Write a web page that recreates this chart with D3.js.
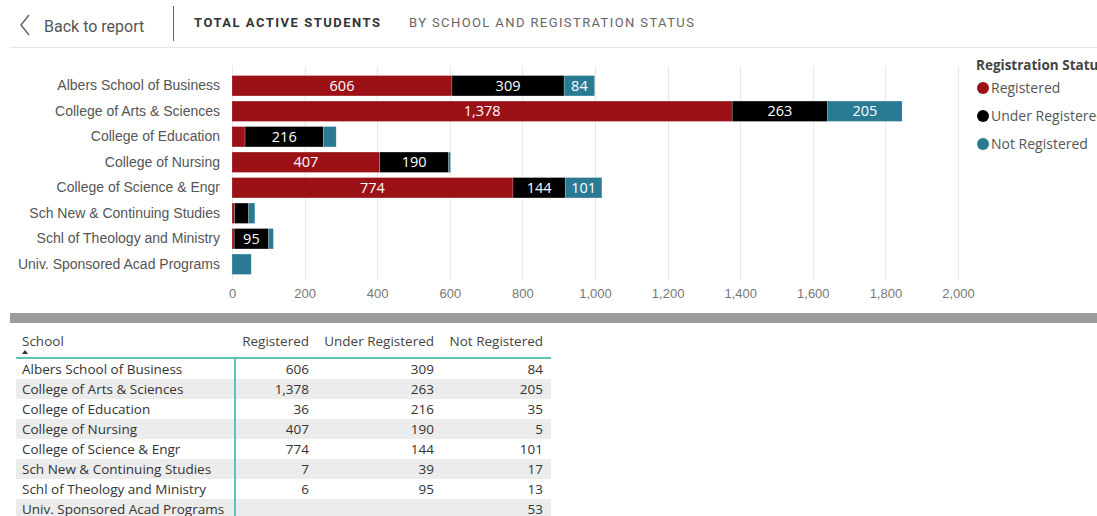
<!DOCTYPE html>
<html>
<head>
<meta charset="utf-8">
<script src="https://cdn.jsdelivr.net/npm/d3@7"></script>
<style>
  body { margin: 0; background: #fff; }
  svg { display: block; font-family: "Open Sans", sans-serif; }
</style>
</head>
<body>
<svg id="chart" width="1097" height="516"></svg>
<script>
// data
const schools = ["Albers School of Business", "College of Arts & Sciences", "College of Education",
  "College of Nursing", "College of Science & Engr", "Sch New & Continuing Studies",
  "Schl of Theology and Ministry", "Univ. Sponsored Acad Programs"]
const registered = [606, 1378, 36, 407, 774, 7, 6, null]
const underRegistered = [309, 263, 216, 190, 144, 39, 95, null]
const notRegistered = [84, 205, 35, 5, 101, 17, 13, 53]
const statuses = ["Registered", "Under Registered", "Not Registered"]
const xTicks = [0, 200, 400, 600, 800, 1000, 1200, 1400, 1600, 1800, 2000]

const colors = ["#9b1115", "#000000", "#2a7a93"]
const fmt = d3.format(",")

const rows = schools.map((s, i) => ({
  school: s, Registered: registered[i], "Under Registered": underRegistered[i], "Not Registered": notRegistered[i]
}))

const svg = d3.select("#chart")

// header
svg.append("path").attr("d", "M29,15 L21,25 L29,35").attr("fill", "none").attr("stroke", "#666").attr("stroke-width", 1.5)
svg.append("text").attr("x", 44).attr("y", 32).text("Back to report")
  .style("font-family", "Roboto").style("font-size", "16px").attr("fill", "#555")
svg.append("line").attr("x1", 173.5).attr("x2", 173.5).attr("y1", 6).attr("y2", 41).attr("stroke", "#666")
svg.append("text").attr("x", 194).attr("y", 27).text("TOTAL ACTIVE STUDENTS")
  .style("font-family", "Roboto").style("font-size", "13px").style("font-weight", "bold")
  .style("letter-spacing", "1.5px").attr("fill", "#333")
svg.append("text").attr("x", 409).attr("y", 27).text("BY SCHOOL AND REGISTRATION STATUS")
  .style("font-family", "Roboto").style("font-size", "13px").style("letter-spacing", "1.4px").attr("fill", "#666")
svg.append("line").attr("x1", 10).attr("x2", 1097).attr("y1", 47.5).attr("y2", 47.5).attr("stroke", "#e6e6e6")

// bar chart
const xScale = d3.scaleLinear().domain([0, 2000]).range([232, 958])
const yScale = d3.scaleBand().domain(schools).range([73, 277]).paddingInner(0.2).paddingOuter(0.1)

const grid = svg.append("g")
grid.selectAll("line").data(xTicks).join("line")
  .attr("x1", d => Math.round(xScale(d)) + 0.5).attr("x2", d => Math.round(xScale(d)) + 0.5)
  .attr("y1", 66).attr("y2", 280).attr("stroke", "#e8e8e8")

const xAxis = d3.axisBottom(xScale).tickValues(xTicks).tickFormat(fmt).tickSize(0).tickPadding(0)
const xg = svg.append("g").attr("transform", "translate(0,298)").call(xAxis)
xg.select(".domain").remove()
xg.selectAll("text").attr("fill", "#777").style("font-size", "13px").attr("dy", 0)

const yAxis = d3.axisLeft(yScale).tickSize(0).tickPadding(0)
const yg = svg.append("g").attr("transform", "translate(220,0)").call(yAxis)
yg.select(".domain").remove()
yg.selectAll("text").attr("fill", "#555").style("font-size", "14px")

const stack = d3.stack().keys(statuses).value((d, k) => d[k] || 0)(rows)
const layers = svg.append("g").selectAll("g").data(stack).join("g")
  .attr("fill", (d, i) => colors[i])

layers.selectAll("rect").data(d => d).join("rect")
  .attr("x", d => xScale(d[0]))
  .attr("y", d => yScale(d.data.school))
  .attr("width", d => xScale(d[1]) - xScale(d[0]))
  .attr("height", yScale.bandwidth())
  .attr("stroke", "rgba(255,255,255,0.35)").attr("stroke-width", 0.6)

layers.selectAll("text").data(d => d.filter(s => xScale(s[1]) - xScale(s[0]) > 24 && s[1] - s[0] > 50)).join("text")
  .attr("x", d => (xScale(d[0]) + xScale(d[1])) / 2)
  .attr("y", d => yScale(d.data.school) + yScale.bandwidth() / 2)
  .attr("dy", "0.36em").attr("text-anchor", "middle")
  .attr("fill", "#fff").style("font-size", "14.5px")
  .text(d => fmt(d[1] - d[0]))

// legend
const legend = svg.append("g").attr("transform", "translate(976,0)")
legend.append("text").attr("x", 0).attr("y", 70).text("Registration Status")
  .style("font-size", "13.5px").style("font-weight", "bold").attr("fill", "#444")
const items = legend.selectAll(".item").data(statuses).join("g")
  .attr("transform", (d, i) => `translate(0,${88 + i * 28})`)
items.append("circle").attr("cx", 7).attr("r", 6).attr("fill", (d, i) => colors[i])
items.append("text").attr("x", 15).attr("dy", "0.36em").text(d => d)
  .style("font-size", "14px").attr("fill", "#555")

// divider band
svg.append("rect").attr("x", 10).attr("y", 313).attr("width", 1087).attr("height", 10).attr("fill", "#9c9c9c")

// table
const table = svg.append("g")
const colRight = [309, 434, 543]
table.append("text").attr("x", 22).attr("y", 346).text("School").style("font-size", "13.5px").attr("fill", "#444")
table.append("path").attr("d", "M22,354 L25,350 L28,354 Z").attr("fill", "#333")
table.selectAll(".head").data(statuses).join("text")
  .attr("x", (d, i) => colRight[i]).attr("y", 346).attr("text-anchor", "end")
  .text(d => d).style("font-size", "13.5px").attr("fill", "#444")

const rowY = d3.scaleBand().domain(schools).range([359, 519])
const trs = table.selectAll(".row").data(rows).join("g")
  .attr("transform", d => `translate(0,${rowY(d.school)})`)
trs.append("rect").attr("x", 16).attr("width", 535).attr("height", rowY.bandwidth())
  .attr("fill", (d, i) => i % 2 ? "#ececec" : "#fff")
trs.append("text").attr("x", 22).attr("y", 15).text(d => d.school).style("font-size", "13.5px").attr("fill", "#333")
statuses.forEach((k, j) => {
  trs.append("text").attr("x", colRight[j]).attr("y", 15).attr("text-anchor", "end")
    .text(d => d[k] == null ? "" : fmt(d[k])).style("font-size", "13.5px").attr("fill", "#333")
})
table.append("line").attr("x1", 16).attr("x2", 551).attr("y1", 358).attr("y2", 358).attr("stroke", "#5fc4b8").attr("stroke-width", 2)
table.append("line").attr("x1", 235).attr("x2", 235).attr("y1", 358).attr("y2", 516).attr("stroke", "#5fc4b8").attr("stroke-width", 2)
</script>
</body>
</html>
